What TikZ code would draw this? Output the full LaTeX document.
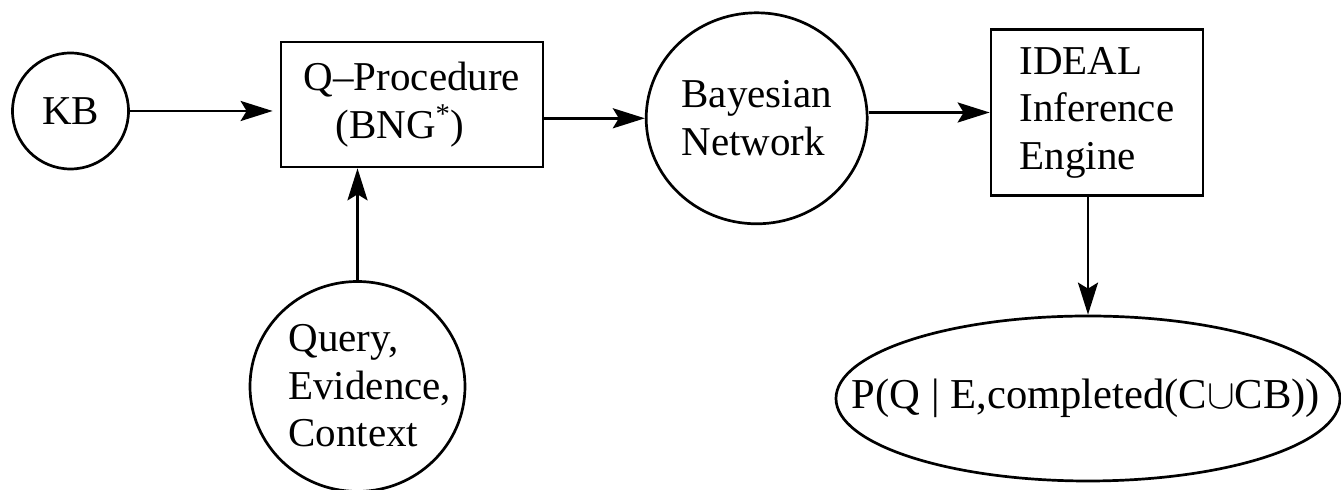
\documentclass[tikz,border=0pt]{standalone}
\usepackage{fontspec}
\setmainfont{Liberation Serif}
\usetikzlibrary{arrows.meta,calc,shapes.geometric}
\begin{document}
\begin{tikzpicture}[x=0.5pt,y=-0.5pt,
  every node/.style={font=\fontsize{20.5}{23.75}\selectfont},
  shp/.style={draw, line width=1.35pt, inner sep=0pt},
  txt/.style={align=left, inner sep=0pt},
  arr/.style={-{Stealth[length=16pt,width=10pt,inset=3pt]}, line width=1.4pt}]
\useasboundingbox (0,0) rectangle (1341,490);
% nodes
\node[shp,circle,minimum size=58pt] (kb) at (70.5,111) {KB};
\node[shp,rectangle,minimum width=131pt,minimum height=62.5pt,align=left] (qp) at (412,104.5)
  {Q–Procedure\\\hspace*{0.77em}(BNG\textsuperscript{*})};
\node[shp,ellipse,minimum width=110.5pt,minimum height=105.5pt,align=left] (bn) at (756.7,118.3)
  {Bayesian\\Network};
\node[shp,rectangle,minimum width=106pt,minimum height=83pt,align=left] (ie) at (1097,112.5)
  {IDEAL\\Inference\\Engine};
\node[shp,ellipse,minimum width=107.5pt,minimum height=105pt] (qc) at (357.5,386.5) {};
\node[txt,anchor=west] (qt) at (288,386) {Query,\\Evidence,\\Context};
\node[shp,ellipse,minimum width=252pt,minimum height=82.5pt] (res) at (1088,398.5) {};
\node[inner sep=0pt,font=\fontsize{21.3}{26}\selectfont] (rest) at (1086,398.5) {P(Q | E,completed(C$\cup$CB))};
% connectors
\draw[arr, shorten >=3.5pt] (kb.east) -- (kb.east -| qp.west);
\draw[arr] (bn.west -| qp.east) -- (bn.west);
\draw[arr] (ie.west -| bn.east) -- (ie.west);
\draw[arr] (qc.north) -- (qc.north |- qp.south);
\draw[arr] (res.north |- ie.south) -- (res.north);
\end{tikzpicture}
\end{document}
